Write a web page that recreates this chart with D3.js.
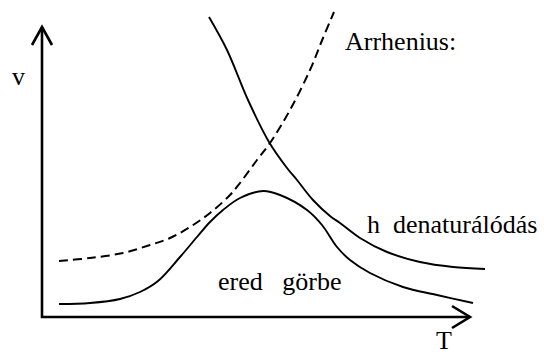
<!DOCTYPE html>
<html>
<head>
<meta charset="utf-8">
<script src="https://cdn.jsdelivr.net/npm/d3@7"></script>
<style>
  body { margin: 0; background: #fff; }
  text { font-family: "Liberation Serif", "Times New Roman", serif; fill: #000; white-space: pre; }
</style>
</head>
<body>
<div id="chart-area"></div>
<script>
// curves, T (x) and v (y) in arbitrary units
var bell = [[17,13],[48,14],[78,18],[98,25],[116,36],[138,60],[155,80],[168,95],[181,107],
  [198,119],[221,126],[238,122],[265,107],[280,92],[295,70],[308,57],[328,44],[361,30],[395,22],[431,14]];
var denat = [[167,300],[185,267],[206,217],[227,175],[245,149],[255,137],[271,117],[288,101],
  [298,94],[318,79],[345,65],[378,55],[411,50],[443,48]];
var arrhenius = [[17,56],[48,59],[81,64],[108,72],[128,79],[148,90],[168,104],[188,122],
  [198,134],[215,157],[228,174],[248,207],[268,247],[281,279],[292,305]];
var xMax = 428, yMax = 290;

var width = 544, height = 356;
var margin = { top: 27, right: 74, bottom: 39, left: 42 };

var svg = d3.select("#chart-area")
  .append("svg")
  .attr("width", width)
  .attr("height", height);

var x = d3.scaleLinear().domain([0, xMax]).range([margin.left, width - margin.right]);
var y = d3.scaleLinear().domain([0, yMax]).range([height - margin.bottom, margin.top]);

var line = d3.line()
  .x(d => x(d[0]))
  .y(d => y(d[1]))
  .curve(d3.curveCatmullRom.alpha(0.5));

// axes with open arrow heads
var ax = d3.path();
ax.moveTo(x(0), y(yMax));
ax.lineTo(x(0), y(0));
ax.lineTo(x(xMax), y(0));
svg.append("path").attr("d", ax.toString())
  .attr("fill", "none").attr("stroke", "#000").attr("stroke-width", 2.6);

var heads = d3.path();
heads.moveTo(x(0) - 10, y(yMax) + 18);
heads.lineTo(x(0), y(yMax));
heads.lineTo(x(0) + 10, y(yMax) + 18);
heads.moveTo(x(xMax) - 18, y(0) - 11);
heads.lineTo(x(xMax), y(0));
heads.lineTo(x(xMax) - 18, y(0) + 11);
svg.append("path").attr("d", heads.toString())
  .attr("fill", "none").attr("stroke", "#000").attr("stroke-width", 2.6);

svg.append("path").datum(arrhenius).attr("d", line)
  .attr("fill", "none").attr("stroke", "#000").attr("stroke-width", 2)
  .attr("stroke-dasharray", "9,5");

svg.append("path").datum(denat).attr("d", line)
  .attr("fill", "none").attr("stroke", "#000").attr("stroke-width", 1.9);

svg.append("path").datum(bell).attr("d", line)
  .attr("fill", "none").attr("stroke", "#000").attr("stroke-width", 1.9);

// labels
svg.append("text").attr("x", 12).attr("y", 85).attr("font-size", "26px").text("v");
svg.append("text").attr("x", 444).attr("y", 349).attr("font-size", "26px")
  .attr("text-anchor", "middle").text("T");
svg.append("text").attr("x", 345).attr("y", 50).attr("font-size", "26px").text("Arrhenius:");
svg.append("text").attr("x", 367).attr("y", 233).attr("font-size", "26px").text("h  denaturálódás");
svg.append("text").attr("x", 218).attr("y", 290).attr("font-size", "26px").text("ered   görbe");
</script>
</body>
</html>
